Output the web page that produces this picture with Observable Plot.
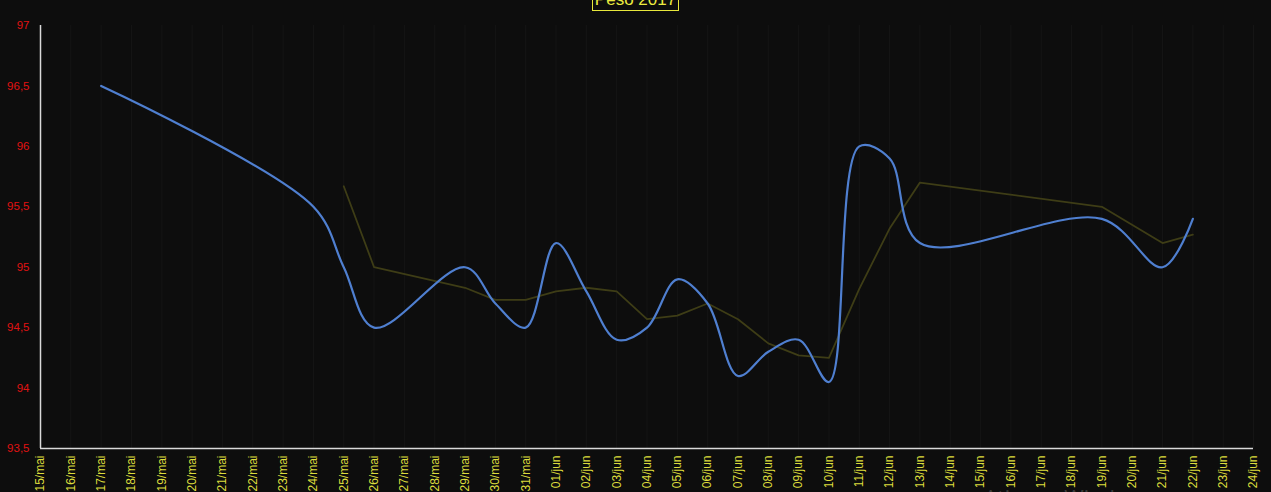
<!DOCTYPE html>
<html>
<head>
<meta charset="utf-8">
<script src="https://cdn.jsdelivr.net/npm/d3@7"></script>
<script src="https://cdn.jsdelivr.net/npm/@observablehq/plot@0.6"></script>
<style>
  html, body { margin: 0; padding: 0; background: #0d0d0d; overflow: hidden; }
  #wrap { position: relative; width: 1271px; height: 492px; }
  #title {
    position: absolute; left: 592px; top: -15px; width: 85px; height: 21px; padding-top: 3px;
    border: 1px solid #e8e83c; color: #ecec40; box-sizing: content-box;
    font: 17px "Liberation Sans", sans-serif; line-height: 22px; text-align: center;
  }
  #wm {
    position: absolute; left: 984px; top: 484px; color: rgba(255,255,255,0.2);
    font: 21px "Open Sans", sans-serif; white-space: nowrap;
  }
</style>
</head>
<body>
<div id="wrap">
  <div id="chart"></div>
  <div id="title">Peso 2017</div>
  <div id="wm">Ativar o Windows</div>
</div>
<script>
// Data
const pesoDates = ["2017-05-17","2017-05-24","2017-05-25","2017-05-26","2017-05-29","2017-05-30","2017-05-31",
  "2017-06-01","2017-06-02","2017-06-03","2017-06-04","2017-06-05","2017-06-06","2017-06-07","2017-06-08",
  "2017-06-09","2017-06-10","2017-06-11","2017-06-12","2017-06-13","2017-06-19","2017-06-21","2017-06-22"];
const pesoValues = [96.5,95.5,95.0,94.5,95.0,94.7,94.5,95.2,94.8,94.4,94.5,94.9,94.7,94.1,94.3,94.4,94.05,96.0,95.9,95.2,95.4,95.0,95.4];

const mediaDates = ["2017-05-25","2017-05-26","2017-05-29","2017-05-30","2017-05-31",
  "2017-06-01","2017-06-02","2017-06-03","2017-06-04","2017-06-05","2017-06-06","2017-06-07","2017-06-08",
  "2017-06-09","2017-06-10","2017-06-11","2017-06-12","2017-06-13","2017-06-19","2017-06-21","2017-06-22"];
const mediaValues = [95.67,95.0,94.83,94.73,94.73,94.8,94.83,94.8,94.57,94.6,94.7,94.57,94.37,94.27,94.25,94.82,95.32,95.7,95.5,95.2,95.27];

const xDomain = ["2017-05-15","2017-06-24"];
const yTicks = [93.5, 94, 94.5, 95, 95.5, 96, 96.5, 97];
const monthNames = ["jan","fev","mar","abr","mai","jun","jul","ago","set","out","nov","dez"];

const peso = pesoDates.map((d, i) => ({date: new Date(d), value: pesoValues[i]}));
const media = mediaDates.map((d, i) => ({date: new Date(d), value: mediaValues[i]}));
const days = d3.utcDay.range(new Date(xDomain[0]), d3.utcDay.offset(new Date(xDomain[1]), 1));

const fmtX = d => `${String(d.getUTCDate()).padStart(2, "0")}/${monthNames[d.getUTCMonth()]}`;
const fmtY = v => String(v).replace(".", ",");

const chart = Plot.plot({
  width: 1271,
  height: 492,
  marginLeft: 40,
  marginRight: 18,
  marginTop: 25,
  marginBottom: 44,
  style: {background: "#0d0d0d", fontFamily: "Liberation Sans, sans-serif"},
  x: {type: "utc", domain: xDomain.map(d => new Date(d))},
  y: {domain: [93.5, 97]},
  marks: [
    Plot.ruleX(days, {stroke: "#151515", strokeWidth: 1}),
    Plot.ruleY([93.5], {stroke: "#d9d9d9", strokeWidth: 1.5}),
    Plot.ruleX([new Date(xDomain[0])], {stroke: "#d9d9d9", strokeWidth: 1.5}),
    Plot.axisY({ticks: yTicks, tickFormat: fmtY, tickSize: 0, tickPadding: 11, fill: "#e01212", fontSize: 11.5, label: null}),
    Plot.axisX({ticks: days, tickFormat: fmtX, tickSize: 0, tickPadding: 7, tickRotate: -90, fill: "#dcdc3c", fontSize: 12, label: null}),
    Plot.line(media, {x: "date", y: "value", stroke: "#3e3d16", strokeWidth: 1.8}),
    Plot.line(peso, {x: "date", y: "value", stroke: "#4f7fd0", strokeWidth: 2.2, curve: "catmull-rom"})
  ]
});
document.getElementById("chart").appendChild(chart);
</script>
</body>
</html>
